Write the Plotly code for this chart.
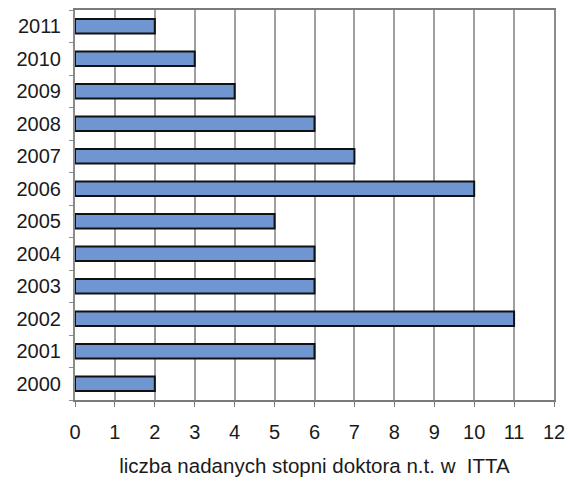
import plotly.graph_objects as go

# Number of doctoral degrees awarded per year
years = ["2000", "2001", "2002", "2003", "2004", "2005",
         "2006", "2007", "2008", "2009", "2010", "2011"]
degrees = [2, 6, 11, 6, 6, 5, 10, 7, 6, 4, 3, 2]
x_ticks = list(range(0, 13))
x_title = "liczba nadanych stopni doktora n.t. w  ITTA"

font_family = "Liberation Sans, Arial, sans-serif"

fig = go.Figure(
    go.Bar(
        x=degrees,
        y=years,
        orientation="h",
        marker=dict(color="#7096d2", line=dict(color="#111111", width=2)),
        hoverinfo="x+y",
    )
)

fig.update_layout(
    width=568,
    height=481,
    margin=dict(l=75, r=14, t=10, b=81),
    paper_bgcolor="#ffffff",
    plot_bgcolor="#ffffff",
    bargap=0.56,
    showlegend=False,
    font=dict(family=font_family, color="#1a1a1a", size=20),
)

fig.update_xaxes(
    automargin=False,
    range=[0, 12],
    tickvals=x_ticks,
    ticktext=[str(v) for v in x_ticks],
    showgrid=True,
    gridcolor="#a0a0a0",
    gridwidth=1.5,
    zeroline=False,
    showline=True,
    linecolor="#7a7a7a",
    linewidth=2,
    mirror=True,
    ticks="outside",
    ticklen=5,
    tickcolor="#7a7a7a",
    ticklabelstandoff=8,
    tickfont=dict(size=20),
    title=dict(text=x_title, font=dict(size=20.5), standoff=17),
)

fig.update_yaxes(
    automargin=False,
    type="category",
    categoryorder="array",
    categoryarray=years,
    tickson="boundaries",
    ticks="outside",
    ticklen=4,
    tickcolor="#8c8c8c",
    ticklabelstandoff=8,
    showgrid=False,
    showline=True,
    linecolor="#8c8c8c",
    linewidth=2,
    mirror=True,
    tickfont=dict(size=20),
)

fig.write_html("out.html")
